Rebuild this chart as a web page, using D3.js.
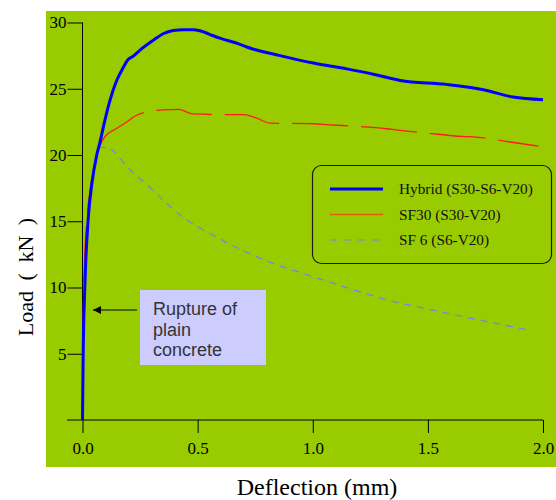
<!DOCTYPE html>
<html>
<head>
<meta charset="utf-8">
<script src="https://cdn.jsdelivr.net/npm/d3@7"></script>
<style>
  html, body { margin: 0; padding: 0; background: #ffffff; }
  svg { display: block; }
</style>
</head>
<body>
<svg id="chart" width="556" height="500"></svg>
<script>
// ---- data ----
const xTicks = [0, 0.5, 1.0, 1.5, 2.0];
const yTicks = [5, 10, 15, 20, 25, 30];

const hybridX = [0, 0.003, 0.01, 0.024, 0.042, 0.062, 0.075, 0.097, 0.119, 0.148, 0.177, 0.198, 0.22, 0.249, 0.307, 0.35, 0.394, 0.44, 0.48, 0.51, 0.568, 0.6, 0.684, 0.713, 0.858, 1.003, 1.148, 1.263, 1.38, 1.58, 1.74, 1.87, 2.0];
const hybridY = [0, 5, 10, 15, 18, 20, 20.9, 22.6, 24.1, 25.6, 26.6, 27.2, 27.45, 27.9, 28.65, 29.15, 29.4, 29.46, 29.46, 29.38, 29.0, 28.8, 28.35, 28.15, 27.5, 26.94, 26.5, 26.1, 25.63, 25.33, 24.93, 24.37, 24.17];

const sf30X = [0, 0.001, 0.006, 0.01, 0.017, 0.032, 0.046, 0.07, 0.09, 0.11, 0.147, 0.184, 0.235, 0.278, 0.35, 0.416, 0.48, 0.6, 0.70, 0.754, 0.815, 1.0, 1.07, 1.2, 1.32, 1.38, 1.5, 1.65, 1.71, 1.85, 1.98];
const sf30Y = [0, 5, 10, 12.6, 14.6, 17.3, 18.7, 20.4, 21.2, 21.6, 22.0, 22.4, 23.0, 23.25, 23.4, 23.45, 23.1, 23.05, 23.05, 22.8, 22.4, 22.36, 22.28, 22.15, 21.98, 21.86, 21.65, 21.4, 21.35, 21.0, 20.67];

const sf6X = [0, 0.004, 0.012, 0.027, 0.05, 0.075, 0.12, 0.2, 0.29, 0.35, 0.437, 0.52, 0.61, 0.72, 0.83, 0.95, 1.075, 1.2, 1.336, 1.48, 1.626, 1.78, 1.945];
const sf6Y = [0, 5, 10, 15, 19.2, 20.6, 20.45, 19.0, 17.6, 16.6, 15.3, 14.4, 13.55, 12.6, 11.8, 11.1, 10.4, 9.7, 9.0, 8.45, 7.9, 7.35, 6.76];

const seriesNames = ["Hybrid (S30-S6-V20)", "SF30 (S30-V20)", "SF 6 (S6-V20)"];
const annotationLines = ["Rupture of", "plain", "concrete"];
const xTitle = "Deflection (mm)";
const yTitle = "Load ( kN )";

// ---- drawing ----
const svg = d3.select("#chart");
const serif = "'Liberation Serif', 'Times New Roman', serif";

svg.append("rect").attr("x", 46).attr("y", 11).attr("width", 510).attr("height", 456).attr("fill", "#99cc00");

const x = d3.scaleLinear().domain([0, 2]).range([82.5, 543]);
const y = d3.scaleLinear().domain([0, 30]).range([420, 22.5]);

// axes
const gx = svg.append("g").attr("transform", `translate(0,${y(0)})`)
  .call(d3.axisBottom(x).tickValues(xTicks).tickSizeInner(13).tickSizeOuter(0).tickPadding(9).tickFormat(d3.format(".1f")));
gx.select(".domain").remove();
gx.append("line").attr("x1", 67).attr("x2", x(2)).attr("y1", 0).attr("y2", 0).attr("stroke", "#000");

const gy = svg.append("g").attr("transform", `translate(${x(0)},0)`)
  .call(d3.axisLeft(y).tickValues(yTicks).tickSizeInner(15).tickSizeOuter(0).tickPadding(1));
gy.select(".domain").remove();
gy.append("line").attr("x1", 0).attr("x2", 0).attr("y1", y(0)).attr("y2", y(30)).attr("stroke", "#000");

svg.selectAll(".tick text").attr("font-family", serif).attr("font-size", 17).attr("fill", "#000");
svg.selectAll(".tick line").attr("stroke", "#000");

// titles
svg.append("text").attr("x", 317).attr("y", 495).attr("text-anchor", "middle")
  .attr("font-family", serif).attr("font-size", 24).text(xTitle);
svg.append("text").attr("transform", "translate(33,277) rotate(-90)").attr("text-anchor", "middle")
  .attr("font-family", serif).attr("font-size", 22).attr("word-spacing", 5).text(yTitle);

// lines
const line = d3.line().x(d => x(d[0])).y(d => y(d[1])).curve(d3.curveMonotoneX);
const zip = (a, b) => a.map((v, i) => [v, b[i]]);

svg.append("path").datum(zip(sf6X, sf6Y)).attr("d", line)
  .attr("fill", "none").attr("stroke", "#7f7fea").attr("stroke-width", 1.3).attr("stroke-dasharray", "7,6");
svg.append("path").datum(zip(sf30X, sf30Y)).attr("d", line)
  .attr("fill", "none").attr("stroke", "#ff1a1a").attr("stroke-width", 1.3).attr("stroke-dasharray", "56,13");
svg.append("path").datum(zip(hybridX, hybridY)).attr("d", line)
  .attr("fill", "none").attr("stroke", "#0000ff").attr("stroke-width", 3).attr("stroke-linejoin", "round");

// legend
const lg = svg.append("g");
lg.append("rect").attr("x", 312.5).attr("y", 165.5).attr("width", 239).attr("height", 98).attr("rx", 9)
  .attr("fill", "none").attr("stroke", "#1a1a1a").attr("stroke-width", 1.2);
const legendStyles = [
  { color: "#0000ff", width: 3, dash: null },
  { color: "#e0600a", width: 1.5, dash: null },
  { color: "#7f7fea", width: 1.2, dash: "7,7" }
];
seriesNames.forEach((name, i) => {
  const ly = 189 + i * 25.5;
  const l = lg.append("line").attr("x1", 330).attr("x2", 383).attr("y1", ly).attr("y2", ly)
    .attr("stroke", legendStyles[i].color).attr("stroke-width", legendStyles[i].width);
  if (legendStyles[i].dash) l.attr("stroke-dasharray", legendStyles[i].dash);
  lg.append("text").attr("x", 399).attr("y", ly + 5).attr("font-family", serif).attr("font-size", 15.3)
    .attr("fill", "#111").text(name);
});

// annotation
svg.append("rect").attr("x", 140).attr("y", 290).attr("width", 126).attr("height", 75).attr("fill", "#ccccff");
annotationLines.forEach((t, i) => {
  svg.append("text").attr("x", 153).attr("y", 315 + i * 20.5).attr("font-family", "'Liberation Sans', Arial, sans-serif")
    .attr("font-size", 18).attr("fill", "#333").text(t);
});
svg.append("defs").append("marker").attr("id", "ah").attr("viewBox", "0 0 10 10").attr("refX", 10).attr("refY", 5)
  .attr("markerWidth", 11).attr("markerHeight", 8).attr("markerUnits", "userSpaceOnUse").attr("orient", "auto")
  .append("path").attr("d", "M0,0 L10,5 L0,10 Z").attr("fill", "#000");
svg.append("line").attr("x1", 137).attr("x2", 93).attr("y1", 310).attr("y2", 310)
  .attr("stroke", "#000").attr("stroke-width", 1).attr("marker-end", "url(#ah)");
</script>
</body>
</html>
